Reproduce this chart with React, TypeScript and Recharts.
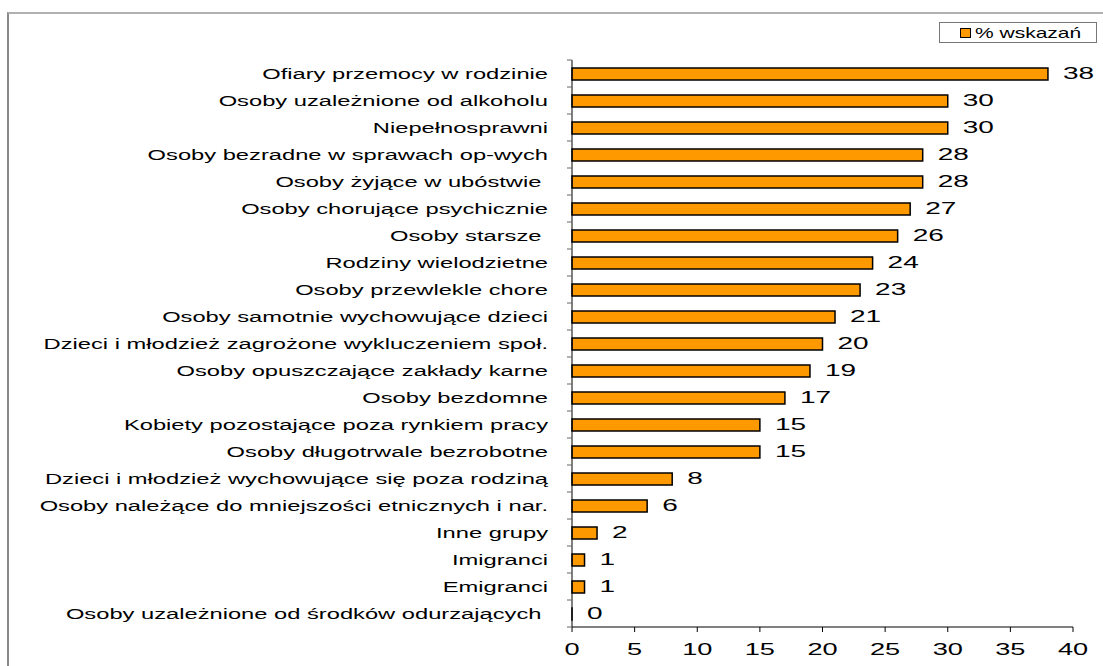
import React from 'react';
import { BarChart, Bar, XAxis, YAxis, LabelList } from 'recharts';

const categories = [
  'Ofiary przemocy w rodzinie',
  'Osoby uzależnione od alkoholu',
  'Niepełnosprawni',
  'Osoby bezradne w sprawach op-wych',
  'Osoby żyjące w ubóstwie ',
  'Osoby chorujące psychicznie',
  'Osoby starsze ',
  'Rodziny wielodzietne',
  'Osoby przewlekle chore',
  'Osoby samotnie wychowujące dzieci',
  'Dzieci i młodzież zagrożone wykluczeniem społ.',
  'Osoby opuszczające zakłady karne',
  'Osoby bezdomne',
  'Kobiety pozostające poza rynkiem pracy',
  'Osoby długotrwale bezrobotne',
  'Dzieci i młodzież wychowujące się poza rodziną',
  'Osoby należące do mniejszości etnicznych i nar.',
  'Inne grupy',
  'Imigranci',
  'Emigranci',
  'Osoby uzależnione od środków odurzających ',
];

const values = [38, 30, 30, 28, 28, 27, 26, 24, 23, 21, 20, 19, 17, 15, 15, 8, 6, 2, 1, 1, 0];
const xTicks = [0, 5, 10, 15, 20, 25, 30, 35, 40];
const seriesName = '% wskazań';

const data = categories.map((name, i) => ({ name, value: values[i] }));

const W = 1103;
const H = 666;
const TOP = 60;
const BOTTOM = 39;
const BAND = (H - TOP - BOTTOM) / categories.length;
const FONT = 'Liberation Sans, Arial, sans-serif';

const CategoryTick = (props: any) => {
  const { x, y, payload, index } = props;
  return (
    <g>
      <text
        transform={`translate(${x - 24},${y}) scale(1.58,1)`}
        textAnchor="end"
        dominantBaseline="central"
        fontSize={15}
        fontFamily={FONT}
        fill="#000"
        style={{ whiteSpace: 'pre' }}
      >
        {payload.value}
      </text>
      {index === 0 && <line x1={x - 5} x2={x} y1={y - BAND / 2} y2={y - BAND / 2} stroke="#666" />}
      <line x1={x - 5} x2={x} y1={y + BAND / 2} y2={y + BAND / 2} stroke="#666" />
    </g>
  );
};

const ValueTick = (props: any) => {
  const { x, y, payload } = props;
  return (
    <text
      transform={`translate(${x},${y + 16}) scale(1.7,1)`}
      textAnchor="middle"
      dominantBaseline="central"
      fontSize={16}
      fontFamily={FONT}
      fill="#000"
    >
      {payload.value}
    </text>
  );
};

const BarValue = (props: any) => {
  const { x, y, width, height, value } = props;
  return (
    <text
      transform={`translate(${x + width + 15},${y + height / 2 - 1}) scale(1.75,1)`}
      textAnchor="start"
      dominantBaseline="central"
      fontSize={16}
      fontFamily={FONT}
      fill="#000"
    >
      {value}
    </text>
  );
};

export default function App() {
  return (
    <div style={{ position: 'fixed', left: 0, top: 0, width: W, height: H, background: '#fff', overflow: 'hidden' }}>
      <div
        style={{
          position: 'absolute',
          left: 7,
          top: 12,
          width: W,
          height: H,
          borderLeft: '2px solid #8a8a8a',
          borderTop: '2px solid #b0b0b0',
        }}
      />
      <div style={{ position: 'absolute', left: 0, top: 0 }}>
        <BarChart
          width={W}
          height={H}
          data={data}
          layout="vertical"
          margin={{ top: TOP, right: 30, bottom: 0, left: 0 }}
        >
          <XAxis
            type="number"
            domain={[0, 40]}
            ticks={xTicks}
            height={BOTTOM}
            tick={<ValueTick />}
            tickSize={5}
            axisLine={{ stroke: '#000' }}
            tickLine={{ stroke: '#000' }}
          />
          <XAxis
            xAxisId="top"
            orientation="top"
            type="number"
            domain={[0, 40]}
            height={0}
            tick={false}
            tickLine={false}
            axisLine={{ stroke: '#999' }}
          />
          <YAxis
            type="category"
            dataKey="name"
            width={572}
            tickSize={0}
            tickMargin={0}
            interval={0}
            tick={<CategoryTick />}
            axisLine={{ stroke: '#000' }}
            tickLine={false}
          />
          <YAxis
            yAxisId="right"
            orientation="right"
            type="category"
            dataKey="name"
            width={0}
            tick={false}
            tickLine={false}
            axisLine={{ stroke: '#999' }}
          />
          <Bar
            dataKey="value"
            name={seriesName}
            fill="#FF9900"
            stroke="#000"
            strokeWidth={1.5}
            barSize={12}
            minPointSize={0.01}
            isAnimationActive={false}
          >
            <LabelList dataKey="value" content={<BarValue />} />
          </Bar>
        </BarChart>
      </div>
      <div
        style={{
          position: 'absolute',
          left: 939,
          top: 22,
          width: 158,
          height: 21,
          border: '1px solid #777',
          background: '#fff',
          display: 'flex',
          alignItems: 'center',
          boxSizing: 'border-box',
          paddingLeft: 20,
        }}
      >
        <span style={{ width: 9, height: 8, background: '#FF9900', border: '1.5px solid #000', marginRight: 4 }} />
        <span
          style={{
            fontFamily: FONT,
            fontSize: 15,
            display: 'inline-block',
            transform: 'scale(1.4,1)',
            transformOrigin: 'left center',
            whiteSpace: 'nowrap',
          }}
        >
          {seriesName}
        </span>
      </div>
    </div>
  );
}
